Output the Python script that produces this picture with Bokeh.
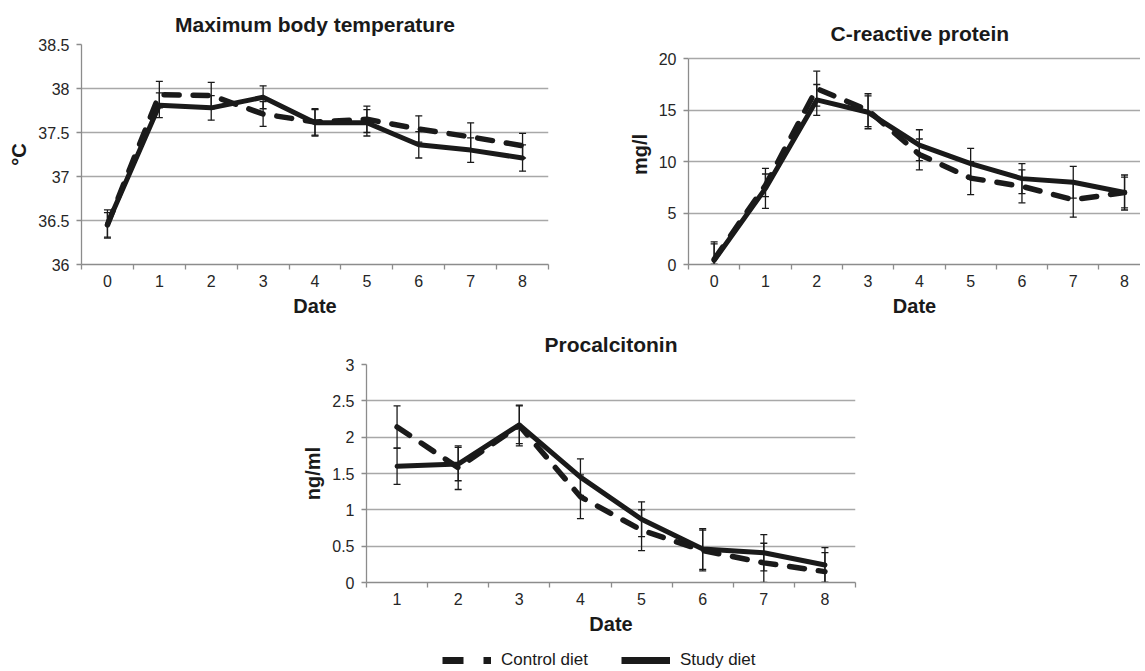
import numpy as np
from bokeh.plotting import figure
from bokeh.models import (ColumnDataSource, Whisker, TeeHead, FixedTicker,
                          Legend, LegendItem, Range1d)
from bokeh.layouts import column, row
from bokeh.embed import file_html
from bokeh.resources import INLINE

# ---------------- data ----------------
days_0_8 = [0, 1, 2, 3, 4, 5, 6, 7, 8]
days_1_8 = [1, 2, 3, 4, 5, 6, 7, 8]

temp_control = [36.45, 37.93, 37.92, 37.71, 37.62, 37.65, 37.54, 37.45, 37.35]
temp_control_err = [0.14, 0.15, 0.15, 0.14, 0.15, 0.15, 0.15, 0.16, 0.14]
temp_study = [36.46, 37.81, 37.78, 37.90, 37.61, 37.61, 37.36, 37.30, 37.21]
temp_study_err = [0.16, 0.14, 0.14, 0.13, 0.15, 0.15, 0.15, 0.14, 0.15]
temp_ticks = [36, 36.5, 37, 37.5, 38, 38.5]

crp_control = [0.5, 7.7, 17.1, 15.0, 10.7, 8.4, 7.6, 6.3, 7.0]
crp_control_err = [1.5, 1.1, 1.7, 1.6, 1.5, 1.6, 1.6, 1.7, 1.5]
crp_study = [0.4, 7.4, 16.0, 14.8, 11.6, 9.8, 8.35, 8.0, 7.0]
crp_study_err = [1.8, 1.95, 1.5, 1.6, 1.5, 1.5, 1.45, 1.55, 1.7]
crp_ticks = [0, 5, 10, 15, 20]

pct_control = [2.14, 1.58, 2.16, 1.18, 0.72, 0.44, 0.27, 0.15]
pct_control_err = [0.29, 0.30, 0.28, 0.30, 0.28, 0.28, 0.27, 0.26]
pct_study = [1.60, 1.63, 2.17, 1.45, 0.87, 0.46, 0.41, 0.24]
pct_study_err = [0.25, 0.23, 0.26, 0.25, 0.24, 0.28, 0.25, 0.24]
pct_ticks = [0, 0.5, 1, 1.5, 2, 2.5, 3]

series_labels = ["Control diet", "Study diet"]

# ---------------- style ----------------
FONT = "Liberation Sans"
INK = "#1a1a1a"
GRID = "#a8a8a8"
AXIS = "#8c8c8c"
TICKTXT = "#262626"


def make_panel(width, height, b_left, b_right, b_top, b_bottom, xr, yr,
               title, ylabel, yticks, xcats, days, ctrl, ctrl_err, stud, stud_err,
               title_standoff=9, title_offset=0, title_align="center"):
    p = figure(width=width, height=height,
               x_range=Range1d(*xr), y_range=Range1d(*yr),
               output_backend="svg", toolbar_location=None,
               min_border_left=b_left, min_border_right=b_right,
               min_border_top=b_top, min_border_bottom=b_bottom)
    p.outline_line_color = None
    p.background_fill_color = "white"
    p.border_fill_color = "white"

    p.title.text = title
    p.title.text_font = FONT
    p.title.text_font_size = "21px"
    p.title.text_font_style = "bold"
    p.title.text_color = INK
    p.title.align = title_align
    p.title.standoff = title_standoff
    p.title.offset = title_offset

    p.xgrid.visible = False
    p.ygrid.grid_line_color = GRID
    p.ygrid.grid_line_width = 1.3

    # y axis
    p.yaxis.ticker = FixedTicker(ticks=yticks)
    p.yaxis.bounds = (yticks[0], yticks[-1])
    p.yaxis.major_label_overrides = {t: f"{t:g}" for t in yticks}
    p.yaxis.axis_line_color = AXIS
    p.yaxis.axis_line_width = 1.3
    p.yaxis.major_tick_line_color = AXIS
    p.yaxis.major_tick_line_width = 1.3
    p.yaxis.major_tick_out = 5
    p.yaxis.major_tick_in = 0
    p.yaxis.minor_tick_line_color = None
    p.yaxis.major_label_standoff = 7
    p.yaxis.axis_label = ylabel
    p.yaxis.axis_label_standoff = 5

    # x axis: labels on categories, ticks between them
    bounds = [c - 0.5 for c in xcats] + [xcats[-1] + 0.5]
    p.xaxis.ticker = FixedTicker(ticks=xcats, minor_ticks=bounds)
    p.xaxis.axis_line_color = AXIS
    p.xaxis.axis_line_width = 1.3
    p.xaxis.major_tick_line_color = None
    p.xaxis.major_tick_out = 0
    p.xaxis.major_tick_in = 0
    p.xaxis.minor_tick_line_color = AXIS
    p.xaxis.minor_tick_line_width = 1.3
    p.xaxis.minor_tick_out = 5
    p.xaxis.minor_tick_in = 0
    p.xaxis.major_label_standoff = 5
    p.xaxis.axis_label = "Date"
    p.xaxis.axis_label_standoff = 5

    for ax in (p.xaxis, p.yaxis):
        ax.major_label_text_font = FONT
        ax.major_label_text_font_size = "16px"
        ax.major_label_text_color = TICKTXT
        ax.axis_label_text_font = FONT
        ax.axis_label_text_font_size = "20px"
        ax.axis_label_text_font_style = "bold"
        ax.axis_label_text_color = INK

    lo = yticks[0]
    src = ColumnDataSource(dict(
        x=days, ctrl=ctrl, stud=stud,
        c_lo=np.maximum(np.array(ctrl) - np.array(ctrl_err), lo),
        c_hi=np.array(ctrl) + np.array(ctrl_err),
        s_lo=np.maximum(np.array(stud) - np.array(stud_err), lo),
        s_hi=np.array(stud) + np.array(stud_err),
    ))
    for lo_c, hi_c in (("c_lo", "c_hi"), ("s_lo", "s_hi")):
        p.add_layout(Whisker(source=src, base="x", lower=lo_c, upper=hi_c,
                             line_color=INK, line_width=1.3,
                             upper_head=TeeHead(size=7, line_color=INK, line_width=1.3),
                             lower_head=TeeHead(size=7, line_color=INK, line_width=1.3)))
    p.line("x", "ctrl", source=src, line_width=5.5, line_dash="15 14",
           line_cap="round", line_join="round", line_color=INK)
    p.line("x", "stud", source=src, line_width=5,
           line_cap="round", line_join="round", line_color=INK)
    return p


# top row: frames share top (44) and bottom (264)
p1 = make_panel(600, 320, 81, 52, 44, 56, (-0.5, 8.5), (36, 38.5),
                "Maximum body temperature", "°C", temp_ticks, days_0_8, days_0_8,
                temp_control, temp_control_err, temp_study, temp_study_err,
                title_standoff=17)
# CRP: 20 sits 14 px below the frame top, plot runs off the right edge
crp_px_per_unit = (264 - 58.3) / 20
crp_top = 20 + (58.3 - 44) / crp_px_per_unit
crp_xend = -0.5 + 452 / 51.3
p2 = make_panel(540, 320, 88, 0, 44, 56, (-0.5, crp_xend), (0, crp_top),
                "C-reactive protein", "mg/l", crp_ticks, days_0_8, days_0_8,
                crp_control, crp_control_err, crp_study, crp_study_err,
                title_standoff=0, title_offset=142, title_align="left")
p3 = make_panel(875, 327, 366, 20, 44, 65, (0.5, 8.5), (0, 3),
                "Procalcitonin", "ng/ml", pct_ticks, days_1_8, days_1_8,
                pct_control, pct_control_err, pct_study, pct_study_err,
                title_standoff=17.5)

# legend strip (its data lie outside the strip's range, only the legend shows)
pleg = figure(width=1140, height=23, x_range=(100, 101), y_range=(0, 1),
              x_axis_location=None, y_axis_location=None,
              output_backend="svg", toolbar_location=None,
              min_border_left=0, min_border_right=0, min_border_top=0, min_border_bottom=0)
pleg.grid.visible = False
pleg.outline_line_color = None
leg_c = pleg.line(x=days_1_8, y=pct_control, line_width=7, line_dash="21 20 8 100",
                  line_cap="butt", line_color=INK)
leg_s = pleg.line(x=days_1_8, y=pct_study, line_width=7, line_cap="butt",
                  line_color=INK)
legend = Legend(items=[LegendItem(label=series_labels[0], renderers=[leg_c]),
                       LegendItem(label=series_labels[1], renderers=[leg_s])],
                orientation="horizontal", location=(76, 0),
                glyph_width=49, glyph_height=16, label_standoff=10, spacing=33,
                padding=0, margin=0, border_line_color=None,
                background_fill_alpha=0,
                label_text_font=FONT, label_text_font_size="17px",
                label_text_color=INK)
pleg.add_layout(legend, "center")

layout = column(row(p1, p2), p3, pleg)
open("out.html", "w").write(file_html(layout, INLINE))
